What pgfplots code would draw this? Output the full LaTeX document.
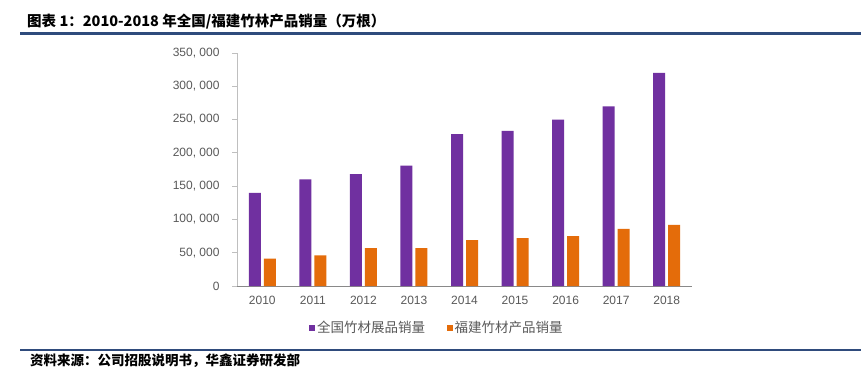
\documentclass[border=0pt]{standalone}
\usepackage{pgfplots}
\pgfplotsset{compat=1.18}
\usepackage{fontspec}
\setmainfont{Liberation Sans}
\newfontfamily\cjk{Noto Sans CJK SC}
\definecolor{cpurple}{HTML}{7030A0}
\definecolor{corange}{HTML}{E46C0A}
\definecolor{navy}{HTML}{2F4B7C}
\definecolor{txtgrey}{HTML}{595959}
\definecolor{yaxgrey}{HTML}{BFBFBF}
\definecolor{xaxgrey}{HTML}{898989}
\pgfplotstableread{
x nat fj
0 140000 41000
1 160000 46000
2 168000 57000
3 181000 57000
4 228000 69000
5 233000 72000
6 250000 75000
7 270000 86000
8 320000 92000
}\datatab
\begin{document}
\begin{tikzpicture}[x=1pt,y=1pt]
\clip (0,0) rectangle (861,368);
\fill[white] (0,0) rectangle (861,368);
\node[anchor=base west, inner sep=0pt, font=\cjk\bfseries\fontsize{14.5}{16}\selectfont] at (27,342) {图表 1：2010-2018 年全国/福建竹林产品销量（万根）};
\draw[navy, line width=2.4pt] (20,334.5) -- (861,334.5);
\draw[navy, line width=2pt] (20,18) -- (861,18);
\node[anchor=base west, inner sep=0pt, font=\cjk\bfseries\fontsize{13.5}{15}\selectfont] at (30,2.5) {资料来源：公司招股说明书，华鑫证券研发部};
\begin{axis}[
  at={(237pt,82pt)}, anchor=south west,
  scale only axis, width=455pt, height=233pt,
  ybar=3pt, bar width=12pt,
  xmin=-0.5, xmax=8.5, ymin=0, ymax=350000,
  axis y line=left, axis x line=bottom,
  axis line style={-},
  x axis line style={xaxgrey, line width=1pt},
  y axis line style={yaxgrey, line width=0.8pt},
  xtick=data,
  xticklabels={2010,2011,2012,2013,2014,2015,2016,2017,2018},
  ytick={0,50000,100000,150000,200000,250000,300000,350000},
  yticklabels={0,{50,\ 000},{100,\ 000},{150,\ 000},{200,\ 000},{250,\ 000},{300,\ 000},{350,\ 000}},
  scaled y ticks=false,
  x tick style={draw=none},
  y tick style={yaxgrey, line width=0.8pt},
  tick align=outside, major tick length=5pt,
  ticklabel style={font=\fontsize{12}{14}\selectfont, text=txtgrey},
  yticklabel style={xshift=-9pt},
  xticklabel style={yshift=-2pt},
  legend style={at={(axis description cs:0.4396,-0.18)}, anchor=center, draw=none, fill=none,
    font=\cjk\fontsize{13.5}{15}\selectfont, text=txtgrey,
    /tikz/every even column/.append style={column sep=20pt},
    nodes={inner sep=2pt}},
  legend columns=2,
  legend image code/.code={\fill[#1] (0pt,-2.8pt) rectangle (5.6pt,2.8pt);},
]
\addplot[fill=cpurple, draw=none] table[x=x,y=nat]{\datatab};
\addplot[fill=corange, draw=none] table[x=x,y=fj]{\datatab};
\legend{全国竹材展品销量,福建竹材产品销量}
\end{axis}
\end{tikzpicture}
\end{document}
